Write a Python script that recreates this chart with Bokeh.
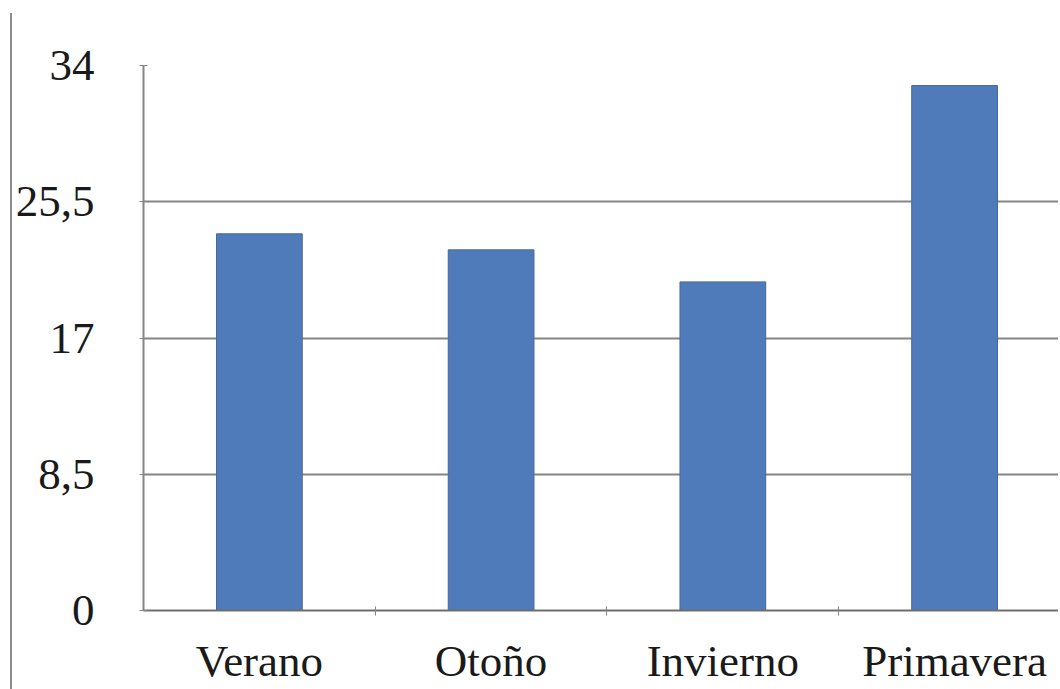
from bokeh.plotting import figure
from bokeh.models import Range1d, FixedTicker
from bokeh.embed import file_html
from bokeh.resources import INLINE

categories = ["Verano", "Otoño", "Invierno", "Primavera"]
values = [23.5, 22.5, 20.5, 32.75]
y_ticks = [0, 8.5, 17, 25.5, 34]
y_tick_labels = ["0", "8,5", "17", "25,5", "34"]

x_pos = [i + 0.5 for i in range(len(categories))]
boundaries = [float(i) for i in range(1, len(categories))]

FONT = "Liberation Serif"
GRID = "#858585"

p = figure(width=1048, height=676, output_backend="svg", toolbar_location=None,
           x_range=Range1d(0, 3.957), y_range=Range1d(0, 34),
           min_border_left=130, min_border_right=0, min_border_top=52,
           min_border_bottom=79)
p.styles = {"margin-left": "10px", "margin-top": "13px",
            "border-left": "2px solid #8c8c8c"}
p.outline_line_color = None
p.background_fill_color = "white"
p.border_fill_color = "white"

p.vbar(x=x_pos, top=values, width=0.37, bottom=0,
       fill_color="#4F7BBA", line_color="#46689c", line_width=1)

# y axis
p.yaxis.ticker = FixedTicker(ticks=y_ticks)
p.yaxis.major_label_overrides = {t: l for t, l in zip(y_ticks, y_tick_labels)}
p.yaxis.major_label_text_font = FONT
p.yaxis.major_label_text_font_size = "45px"
p.yaxis.major_label_text_color = "#1a1a1a"
p.yaxis.major_label_standoff = 45
p.yaxis.major_tick_in = 4
p.yaxis.major_tick_out = 4
p.yaxis.major_tick_line_color = GRID
p.yaxis.minor_tick_line_color = None
p.yaxis.axis_line_color = GRID
p.yaxis.axis_line_width = 2

# x axis
p.xaxis.ticker = FixedTicker(ticks=x_pos, minor_ticks=boundaries)
p.xaxis.major_label_overrides = {x: c for x, c in zip(x_pos, categories)}
p.xaxis.major_label_text_font = FONT
p.xaxis.major_label_text_font_size = "45px"
p.xaxis.major_label_text_color = "#1a1a1a"
p.xaxis.major_label_standoff = 20
p.xaxis.major_tick_in = 0
p.xaxis.major_tick_out = 0
p.xaxis.minor_tick_in = 4
p.xaxis.minor_tick_out = 5
p.xaxis.minor_tick_line_color = GRID
p.xaxis.axis_line_color = "#6e6e6e"
p.xaxis.axis_line_width = 2

p.xgrid.grid_line_color = None
p.ygrid.grid_line_color = GRID
p.ygrid.grid_line_width = 2

open("out.html", "w").write(file_html(p, INLINE))
